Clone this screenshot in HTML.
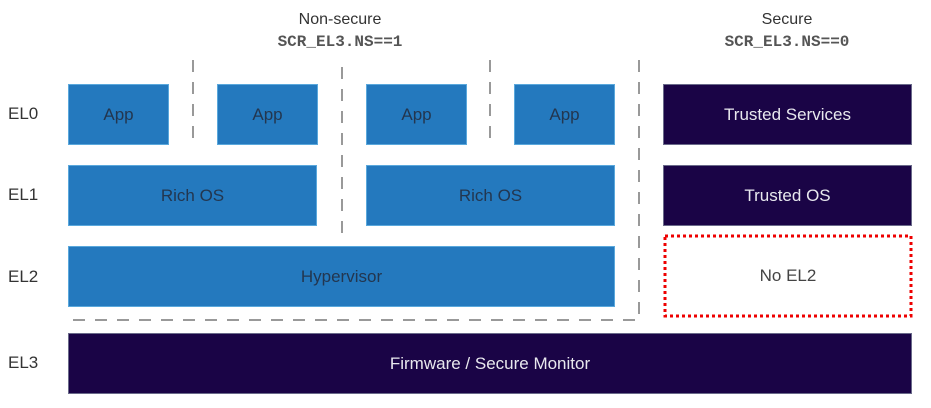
<!DOCTYPE html><html><head><style>
body{margin:0;width:931px;height:408px;background:#fff;position:relative;font-family:"Liberation Sans",sans-serif;overflow:hidden}
.b{position:absolute;display:flex;align-items:center;justify-content:center;font-size:17px}
.bl{background:#2479be;color:#23364f;border:1px solid #5aa8dc;box-sizing:border-box}
.dk{background:#1a0446;color:#e8e8ee;border:1px solid #6a6a8a;box-sizing:border-box}
.el{position:absolute;left:8px;font-size:17px;color:#333}
.t{position:absolute;text-align:center;color:#333;font-size:16px;line-height:22px}
.m{font-family:"Liberation Mono",monospace;font-weight:bold;color:#555;font-size:16px}
</style></head><body>
<div class="t" style="left:240px;top:9px;width:200px">Non-secure<br><span class="m">SCR_EL3.NS==1</span></div>
<div class="t" style="left:687px;top:9px;width:200px">Secure<br><span class="m">SCR_EL3.NS==0</span></div>
<svg style="position:absolute;left:0;top:0" width="931" height="408">
<g stroke="#999" stroke-width="2" stroke-dasharray="12,10" fill="none">
<line x1="193" y1="60" x2="193" y2="146"/>
<line x1="342" y1="67" x2="342" y2="240"/>
<line x1="490" y1="60" x2="490" y2="146"/>
<path d="M639 60 V320 H68"/>
</g>
<rect x="665" y="236" width="246" height="80" fill="none" stroke="#e00" stroke-width="3" stroke-dasharray="3,3"/>
</svg>
<div class="el" style="top:104px">EL0</div>
<div class="el" style="top:185px">EL1</div>
<div class="el" style="top:267px">EL2</div>
<div class="el" style="top:353px">EL3</div>
<div class="b bl" style="left:68px;top:84px;width:101px;height:61px">App</div>
<div class="b bl" style="left:217px;top:84px;width:101px;height:61px">App</div>
<div class="b bl" style="left:366px;top:84px;width:101px;height:61px">App</div>
<div class="b bl" style="left:514px;top:84px;width:101px;height:61px">App</div>
<div class="b bl" style="left:68px;top:165px;width:249px;height:61px">Rich OS</div>
<div class="b bl" style="left:366px;top:165px;width:249px;height:61px">Rich OS</div>
<div class="b bl" style="left:68px;top:246px;width:547px;height:61px">Hypervisor</div>
<div class="b dk" style="left:663px;top:84px;width:249px;height:61px">Trusted Services</div>
<div class="b dk" style="left:663px;top:165px;width:249px;height:61px">Trusted OS</div>
<div class="b" style="left:665px;top:236px;width:246px;height:80px;color:#444">No EL2</div>
<div class="b dk" style="left:68px;top:333px;width:844px;height:61px">Firmware / Secure Monitor</div>
</body></html>
